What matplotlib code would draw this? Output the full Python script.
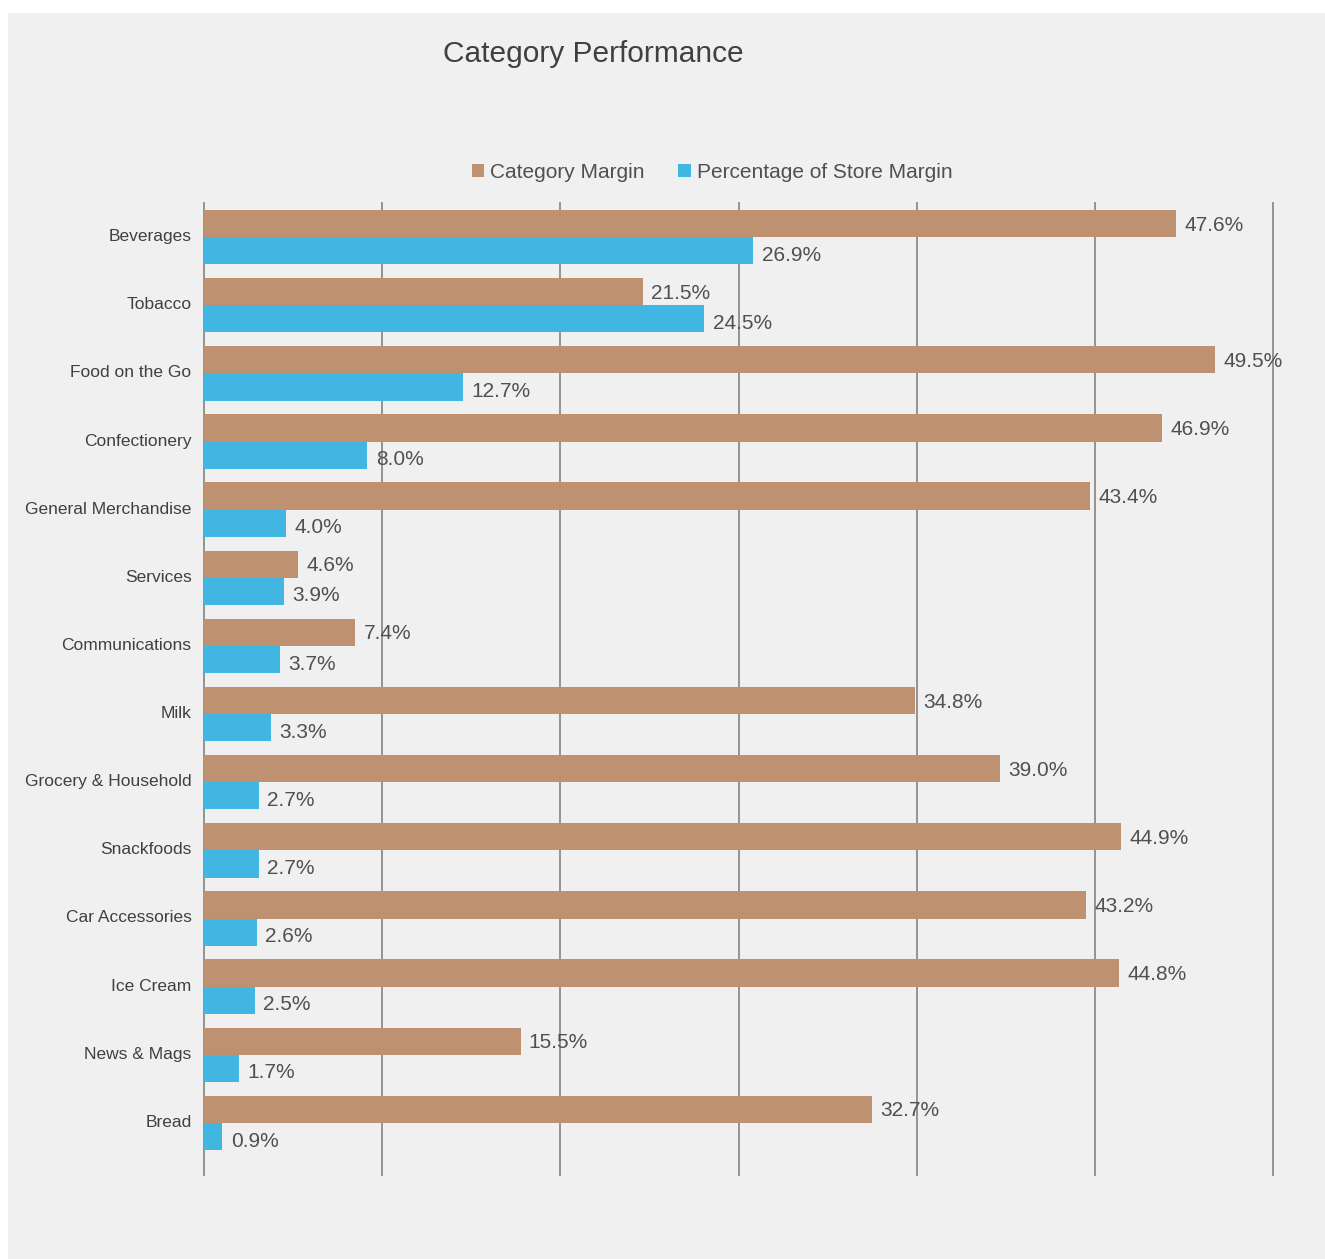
import matplotlib
matplotlib.use('Agg')
import matplotlib.pyplot as plt
import matplotlib.patches as mpatches
import matplotlib.transforms as mtransforms
import numpy as np

plt.rcParams.update({
    'font.family': ['Liberation Sans', 'DejaVu Sans'],
})

categories = ['Beverages', 'Tobacco', 'Food on the Go', 'Confectionery',
              'General Merchandise', 'Services', 'Communications', 'Milk',
              'Grocery & Household', 'Snackfoods', 'Car Accessories',
              'Ice Cream', 'News & Mags', 'Bread']
category_margin = [47.6, 21.5, 49.5, 46.9, 43.4, 4.6, 7.4, 34.8,
                   39.0, 44.9, 43.2, 44.8, 15.5, 32.7]
store_share = [26.9, 24.5, 12.7, 8.0, 4.0, 3.9, 3.7, 3.3,
               2.7, 2.7, 2.6, 2.5, 1.7, 0.9]

BROWN = '#BE9270'
BLUE = '#41B6E2'
GRID = '#8C8C8C'
TXT = '#404040'
BG = '#F0F0F0'

fig = plt.figure(figsize=(13.25, 12.59), dpi=100)
fig.patch.set_facecolor('white')
# grey panel behind everything
fig.patches.append(mpatches.Rectangle((8 / 1325, 0), 1, (1259 - 13) / 1259,
                                      transform=fig.transFigure,
                                      facecolor=BG, edgecolor='none', zorder=-10))

ax = fig.add_axes([204 / 1325, 102 / 1259, 1069 / 1325, 954 / 1259])
ax.set_facecolor('none')

y = np.arange(len(categories))
h = 0.4
xmax = 52.35

b1 = ax.barh(y - h / 2, category_margin, h, color=BROWN, zorder=3, label='Category Margin')
b2 = ax.barh(y + h / 2, store_share, h, color=BLUE, zorder=3, label='Percentage of Store Margin')

for bars, vals, dy in ((b1, category_margin, -1.2), (b2, store_share, -3.2)):
    for bar, v in zip(bars, vals):
        ax.annotate(f'{v:.1f}%', xy=(v, bar.get_y() + bar.get_height() / 2),
                    xytext=(6, dy), textcoords='offset points',
                    ha='left', va='center', fontsize=15, color='#505050', zorder=5)

ax.set_xlim(0, xmax)
ax.set_ylim(len(categories) - 0.5, -0.5)
ax.set_xticks(np.linspace(0, xmax, 7))
ax.set_xticklabels([])
ax.tick_params(axis='x', direction='out', length=14, width=1.3, color=GRID)
ax.grid(axis='x', color=GRID, linewidth=1.3, zorder=1)
for gl in ax.get_xgridlines():
    gl.set_clip_on(False)
ax.set_yticks(y)
ax.set_yticklabels(categories, fontsize=12.5, color=TXT)
ax.tick_params(axis='y', length=0, pad=9)
# nudge category names up a touch
lift = mtransforms.ScaledTranslation(0, 2 / 100, fig.dpi_scale_trans)
for lbl in ax.get_yticklabels():
    lbl.set_transform(lbl.get_transform() + lift)
for s in ax.spines.values():
    s.set_visible(False)

fig.text(593 / 1325, 1 - 54 / 1259, 'Category Performance', fontsize=21.5,
         color='#404040', ha='center', va='center')

leg = fig.legend(handles=[b1, b2], loc='center', bbox_to_anchor=(712 / 1325, 1 - 172 / 1259),
                 ncol=2, frameon=False, fontsize=15, handlelength=0.6, handleheight=0.6,
                 handletextpad=0.3, columnspacing=1.6)
for t in leg.get_texts():
    t.set_color('#505050')

fig.savefig('out.png', dpi=100, facecolor=fig.get_facecolor())
